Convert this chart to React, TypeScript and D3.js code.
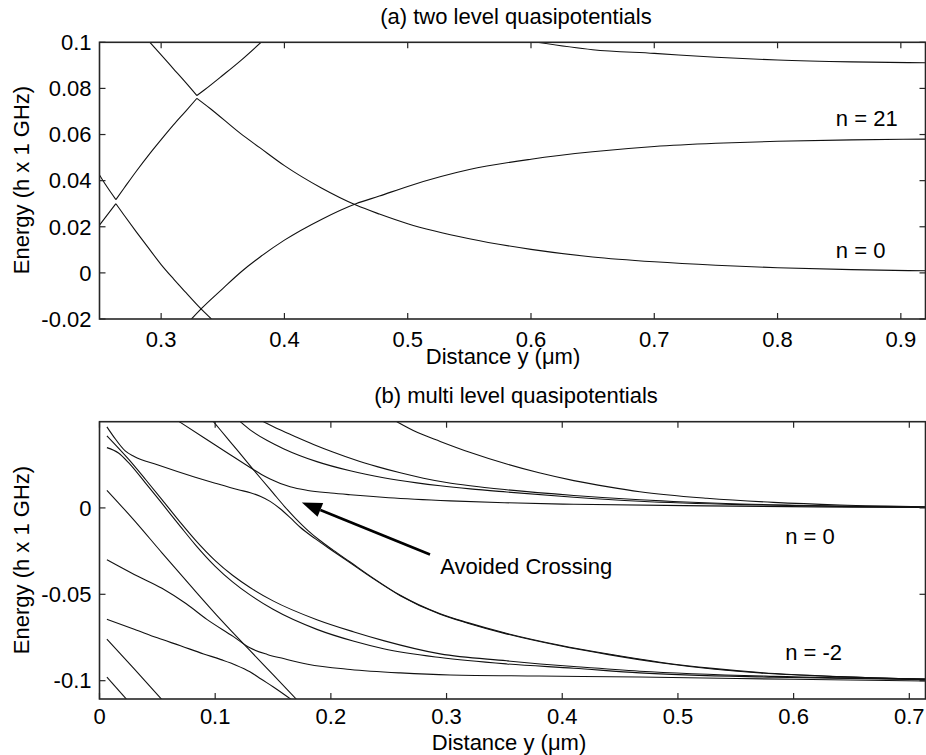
import React from "react";
import * as d3 from "d3";

type Pt = [number, number];

// ---------- (a) two level quasipotentials ----------
const aXTicks = [0.3, 0.4, 0.5, 0.6, 0.7, 0.8, 0.9];
const aYTicks = [-0.02, 0, 0.02, 0.04, 0.06, 0.08, 0.1];

// V shaped branch from the left edge, up through 0.33 then down to n = 0
const aLeftV: Pt[] = [
  [0.25, 0.0425], [0.255, 0.0382], [0.2633, 0.0318], [0.27, 0.0368], [0.28, 0.0442],
  [0.29, 0.0512], [0.3, 0.0578], [0.31, 0.0642], [0.32, 0.0702], [0.329, 0.0757],
  [0.34, 0.0712], [0.364, 0.0606], [0.38, 0.0543], [0.4, 0.0465], [0.43, 0.0368],
  [0.458, 0.0294], [0.477, 0.0255], [0.5, 0.0213], [0.55, 0.0148], [0.6, 0.0102],
  [0.65, 0.0069], [0.7, 0.0048], [0.75, 0.0033], [0.8, 0.0022], [0.86, 0.0014], [0.92, 0.0009],
];
// upper branch of the crossing at 0.33
const aUpperX: Pt[] = [
  [0.2908, 0.1], [0.3, 0.0945], [0.31, 0.0885], [0.32, 0.0825], [0.329, 0.0769],
  [0.335, 0.0793], [0.35, 0.0857], [0.365, 0.0923], [0.381, 0.1],
];
// lower branch from the left edge going down
const aLeftLambda: Pt[] = [
  [0.25, 0.0207], [0.2633, 0.03], [0.27, 0.025], [0.28, 0.0177], [0.29, 0.0106],
  [0.3, 0.0036], [0.31, -0.0026], [0.32, -0.0085], [0.33, -0.0143], [0.3408, -0.02],
];
// rising from the bottom to n = 21
const aRising: Pt[] = [
  [0.3246, -0.02], [0.333, -0.0153], [0.35, -0.0068], [0.365, 0.0005], [0.38, 0.0068],
  [0.4, 0.0142], [0.43, 0.0232], [0.458, 0.03], [0.477, 0.0333], [0.5, 0.0375],
  [0.55, 0.0448], [0.6, 0.0493], [0.65, 0.0525], [0.7, 0.0548], [0.75, 0.0562],
  [0.8, 0.0571], [0.86, 0.0577], [0.92, 0.058],
];
const aTopRight: Pt[] = [
  [0.605, 0.1], [0.65, 0.0968], [0.7, 0.0952], [0.75, 0.0935], [0.8, 0.0923],
  [0.86, 0.0915], [0.92, 0.0911],
];
const aNotes: { text: string; at: Pt }[] = [
  { text: "n = 21", at: [0.8473, 0.0635] },
  { text: "n = 0", at: [0.8473, 0.0065] },
];

// ---------- (b) multi level quasipotentials ----------
const bXTicks = [0, 0.1, 0.2, 0.3, 0.4, 0.5, 0.6, 0.7];
const bYTicks = [-0.1, -0.05, 0];

const bBendTop: Pt[] = [
  [0.0064, 0.0469], [0.0125, 0.041], [0.0222, 0.033], [0.03, 0.0298], [0.05, 0.025],
  [0.0827, 0.0178], [0.1, 0.0143], [0.12, 0.0105], [0.1304, 0.0088], [0.1389, 0.0068],
  [0.1475, 0.0038], [0.1562, -0.0005], [0.165, -0.0058], [0.1735, -0.0112], [0.1864, -0.0178],
  [0.2023, -0.0252], [0.2167, -0.0318], [0.235, -0.0402], [0.26, -0.0508], [0.2945, -0.0616],
  [0.3183, -0.0667], [0.35, -0.0726], [0.398, -0.0798], [0.44, -0.0849], [0.4846, -0.0896],
  [0.53, -0.0932], [0.5711, -0.0955], [0.64, -0.0978], [0.714, -0.0992],
];
const bSteep: Pt[] = [
  [0.0985, 0.0499], [0.11, 0.0407], [0.12, 0.0327], [0.133, 0.0222], [0.14, 0.0166],
  [0.15, 0.0087], [0.16, 0.0008], [0.17, -0.0065], [0.18, -0.013], [0.19, -0.0186],
  [0.2023, -0.0246], [0.2167, -0.0313], [0.235, -0.0399], [0.26, -0.0506], [0.2945, -0.0613],
  [0.3183, -0.0664], [0.35, -0.0723], [0.398, -0.0795], [0.44, -0.0846], [0.4846, -0.0893],
  [0.53, -0.0929], [0.5711, -0.0953], [0.64, -0.0976], [0.714, -0.0991],
];
const bFlatZero: Pt[] = [
  [0.069, 0.0499], [0.09, 0.0408], [0.11, 0.0321], [0.133, 0.0222], [0.14, 0.0194],
  [0.1475, 0.0168], [0.1648, 0.0122], [0.18, 0.0101], [0.2, 0.0086], [0.2167, 0.0076],
  [0.25, 0.0059], [0.3031, 0.0041], [0.35, 0.003], [0.41, 0.0021], [0.525, 0.0012],
  [0.62, 0.0006], [0.714, 0.0002],
];
const bTop1: Pt[] = [
  [0.1216, 0.0499], [0.1302, 0.0452], [0.145, 0.039], [0.159, 0.0343], [0.1879, 0.0268],
  [0.2167, 0.0215], [0.2455, 0.0175], [0.2743, 0.0145], [0.2945, 0.0128], [0.3204, 0.011],
  [0.352, 0.0092], [0.41, 0.0062], [0.467, 0.0039], [0.554, 0.0019], [0.64, 0.0009], [0.714, 0.0004],
];
const bTop2: Pt[] = [
  [0.1417, 0.0499], [0.155, 0.0455], [0.17, 0.041], [0.185, 0.0367], [0.2023, 0.0322],
  [0.22, 0.028], [0.24, 0.0239], [0.26, 0.0203], [0.28, 0.0172], [0.3, 0.0147],
  [0.3204, 0.0128], [0.352, 0.0105], [0.41, 0.0072], [0.467, 0.0047], [0.554, 0.0023],
  [0.64, 0.0011], [0.714, 0.0005],
];
const bTop3: Pt[] = [
  [0.257, 0.0499], [0.275, 0.0436], [0.2945, 0.0385], [0.32, 0.0322], [0.352, 0.0254],
  [0.38, 0.0203], [0.41, 0.0158], [0.44, 0.0122], [0.467, 0.0094], [0.525, 0.0056],
  [0.5825, 0.0032], [0.64, 0.0017], [0.714, 0.0007],
];
const bPairUpper: Pt[] = [
  [0.0064, 0.0417], [0.0251, 0.0282], [0.04, 0.0163], [0.054, 0.0048], [0.07, -0.0085],
  [0.0827, -0.0185], [0.1, -0.0305], [0.115, -0.039], [0.1304, -0.0462], [0.15, -0.0538],
  [0.1879, -0.0647], [0.22, -0.0718], [0.2455, -0.0768], [0.2945, -0.0845], [0.352, -0.0885],
  [0.381, -0.0903], [0.41, -0.0918], [0.467, -0.0945], [0.5825, -0.0975], [0.714, -0.0991],
];
const bPairLower: Pt[] = [
  [0.0064, 0.0349], [0.0164, 0.0318], [0.0251, 0.0262], [0.04, 0.0142], [0.054, 0.0026],
  [0.07, -0.0108], [0.0827, -0.0212], [0.1, -0.0338], [0.115, -0.0428], [0.1304, -0.0505],
  [0.15, -0.0587], [0.1879, -0.0703], [0.22, -0.0772], [0.2455, -0.0815], [0.2945, -0.0866],
  [0.352, -0.0903], [0.41, -0.0928], [0.467, -0.0955], [0.5825, -0.098], [0.714, -0.0994],
];
const bLowSteep: Pt[] = [
  [0.0064, 0.0102], [0.03, -0.0072], [0.054, -0.026], [0.08, -0.046], [0.105, -0.0648],
  [0.13, -0.0825], [0.15, -0.0965], [0.1706, -0.111],
];
const bLowBend: Pt[] = [
  [0.0064, -0.03], [0.03, -0.0385], [0.054, -0.0465], [0.075, -0.0555], [0.0928, -0.0645],
  [0.1158, -0.0745], [0.13, -0.081], [0.145, -0.0848], [0.159, -0.0872], [0.18, -0.0905],
  [0.2167, -0.0935], [0.26, -0.0955], [0.3031, -0.0967], [0.38, -0.0973], [0.467, -0.0979],
  [0.6, -0.0992], [0.714, -0.1002],
];
const bLowDip: Pt[] = [
  [0.0064, -0.0645], [0.03, -0.0702], [0.05, -0.0752], [0.07, -0.0798], [0.09, -0.0845],
  [0.105, -0.0878], [0.118, -0.091], [0.13, -0.0948], [0.14, -0.0992], [0.15, -0.1035],
  [0.166, -0.111],
];
const bEdge1: Pt[] = [[0.0064, -0.076], [0.03, -0.0932], [0.054, -0.111]];
const bEdge2: Pt[] = [[0.0064, -0.098], [0.0237, -0.111]];

const bNotes: { text: string; at: Pt }[] = [
  { text: "n = 0", at: [0.5927, -0.0207] },
  { text: "n = -2", at: [0.5927, -0.0883] },
  { text: "Avoided Crossing", at: [0.2945, -0.0385] },
];
const bArrow: { from: Pt; to: Pt } = { from: [0.2857, -0.027], to: [0.1749, 0.0032] };

const FONT = "'Liberation Sans', Arial, Helvetica, sans-serif";
const FS = 22;

// split a curve at its local extrema so kinks stay sharp
function pieces(c: Pt[]): Pt[][] {
  const out: Pt[][] = [];
  let cur: Pt[] = [c[0]];
  for (let i = 1; i < c.length; i++) {
    cur.push(c[i]);
    if (i < c.length - 1 && (c[i][1] - c[i - 1][1]) * (c[i + 1][1] - c[i][1]) < 0) {
      out.push(cur);
      cur = [c[i]];
    }
  }
  out.push(cur);
  return out;
}

type PanelProps = {
  id: string;
  box: { left: number; right: number; top: number; bottom: number };
  xDomain: [number, number];
  yDomain: [number, number];
  xTicks: number[];
  yTicks: number[];
  curves: Pt[][];
  title: string;
  titleX: number;
  titleY: number;
  xLabelX: number;
  xLabelY: number;
  xTickY: number;
  yLabelY: number;
  notes: { text: string; at: Pt }[];
  arrow?: { from: Pt; to: Pt };
};

function Panel(p: PanelProps) {
  const { box } = p;
  const x = d3.scaleLinear().domain(p.xDomain).range([box.left, box.right]);
  const y = d3.scaleLinear().domain(p.yDomain).range([box.bottom, box.top]);
  const line = d3
    .line<Pt>()
    .x((d) => x(d[0]))
    .y((d) => y(d[1]))
    .curve(d3.curveMonotoneX);
  const tick = 6;

  let arrowEl = null;
  if (p.arrow) {
    const x1 = x(p.arrow.from[0]), y1 = y(p.arrow.from[1]);
    const x2 = x(p.arrow.to[0]), y2 = y(p.arrow.to[1]);
    const ang = Math.atan2(y2 - y1, x2 - x1);
    const len = 20, half = 7.5;
    const bx = x2 - len * Math.cos(ang), by = y2 - len * Math.sin(ang);
    const nx = -Math.sin(ang), ny = Math.cos(ang);
    arrowEl = (
      <g>
        <line x1={x1} y1={y1} x2={bx} y2={by} stroke="#000" strokeWidth={2.6} />
        <polygon
          points={`${x2},${y2} ${bx + nx * half},${by + ny * half} ${bx - nx * half},${by - ny * half}`}
          fill="#000"
        />
      </g>
    );
  }

  return (
    <g fontFamily={FONT} fontSize={FS} fill="#000">
      <defs>
        <clipPath id={p.id}>
          <rect x={box.left} y={box.top} width={box.right - box.left} height={box.bottom - box.top} />
        </clipPath>
      </defs>
      <g clipPath={`url(#${p.id})`}>
        {p.curves.map((c, i) => (
          <path
            key={i}
            d={pieces(c).map((s) => line(s) ?? "").join("")}
            fill="none"
            stroke="#111"
            strokeWidth={1.1}
            strokeLinejoin="round"
          />
        ))}
      </g>
      <g stroke="#262626" strokeWidth={1.2}>
        {p.xTicks.map((t) => (
          <g key={"x" + t}>
            <line x1={x(t)} x2={x(t)} y1={box.bottom} y2={box.bottom - tick} />
            <line x1={x(t)} x2={x(t)} y1={box.top} y2={box.top + tick} />
          </g>
        ))}
        {p.yTicks.map((t) => (
          <g key={"y" + t}>
            <line x1={box.left} x2={box.left + tick} y1={y(t)} y2={y(t)} />
            <line x1={box.right} x2={box.right - tick} y1={y(t)} y2={y(t)} />
          </g>
        ))}
      </g>
      <rect
        x={box.left}
        y={box.top}
        width={box.right - box.left}
        height={box.bottom - box.top}
        fill="none"
        stroke="#262626"
        strokeWidth={1.6}
      />
      {p.xTicks.map((t) => (
        <text key={"xl" + t} x={x(t)} y={p.xTickY} textAnchor="middle">
          {String(t)}
        </text>
      ))}
      {p.yTicks.map((t) => (
        <text key={"yl" + t} x={box.left - 8} y={y(t) + 7.8} textAnchor="end">
          {String(t)}
        </text>
      ))}
      <text x={p.titleX} y={p.titleY} textAnchor="middle">
        {p.title}
      </text>
      <text x={p.xLabelX} y={p.xLabelY} textAnchor="middle">
        Distance y (μm)
      </text>
      <text transform={`translate(29,${p.yLabelY}) rotate(-90)`} textAnchor="middle">
        Energy (h x 1 GHz)
      </text>
      {p.notes.map((n) => (
        <text key={n.text} x={x(n.at[0])} y={y(n.at[1])}>
          {n.text}
        </text>
      ))}
      {arrowEl}
    </g>
  );
}

export default function App() {
  return (
    <svg
      width={926}
      height={755}
      style={{ position: "absolute", left: 0, top: 0, background: "#fff" }}
    >
      <rect width={926} height={755} fill="#fff" />
      <Panel
        id="clipA"
        box={{ left: 99.5, right: 925.5, top: 42.3, bottom: 319 }}
        xDomain={[0.25, 0.92]}
        yDomain={[-0.02, 0.1]}
        xTicks={aXTicks}
        yTicks={aYTicks}
        curves={[aLeftV, aUpperX, aLeftLambda, aRising, aTopRight]}
        title="(a) two level quasipotentials"
        titleX={516}
        titleY={24}
        xLabelX={503}
        xLabelY={364}
        xTickY={347}
        yLabelY={180}
        notes={aNotes}
      />
      <Panel
        id="clipB"
        box={{ left: 99.5, right: 925.5, top: 421.7, bottom: 699 }}
        xDomain={[0, 0.714]}
        yDomain={[-0.1106, 0.0499]}
        xTicks={bXTicks}
        yTicks={bYTicks}
        curves={[
          bBendTop, bSteep, bFlatZero, bTop1, bTop2, bTop3,
          bPairUpper, bPairLower, bLowSteep, bLowBend, bLowDip, bEdge1, bEdge2,
        ]}
        title="(b) multi level quasipotentials"
        titleX={516}
        titleY={403}
        xLabelX={509}
        xLabelY={750}
        xTickY={724}
        yLabelY={560}
        notes={bNotes}
        arrow={bArrow}
      />
    </svg>
  );
}
